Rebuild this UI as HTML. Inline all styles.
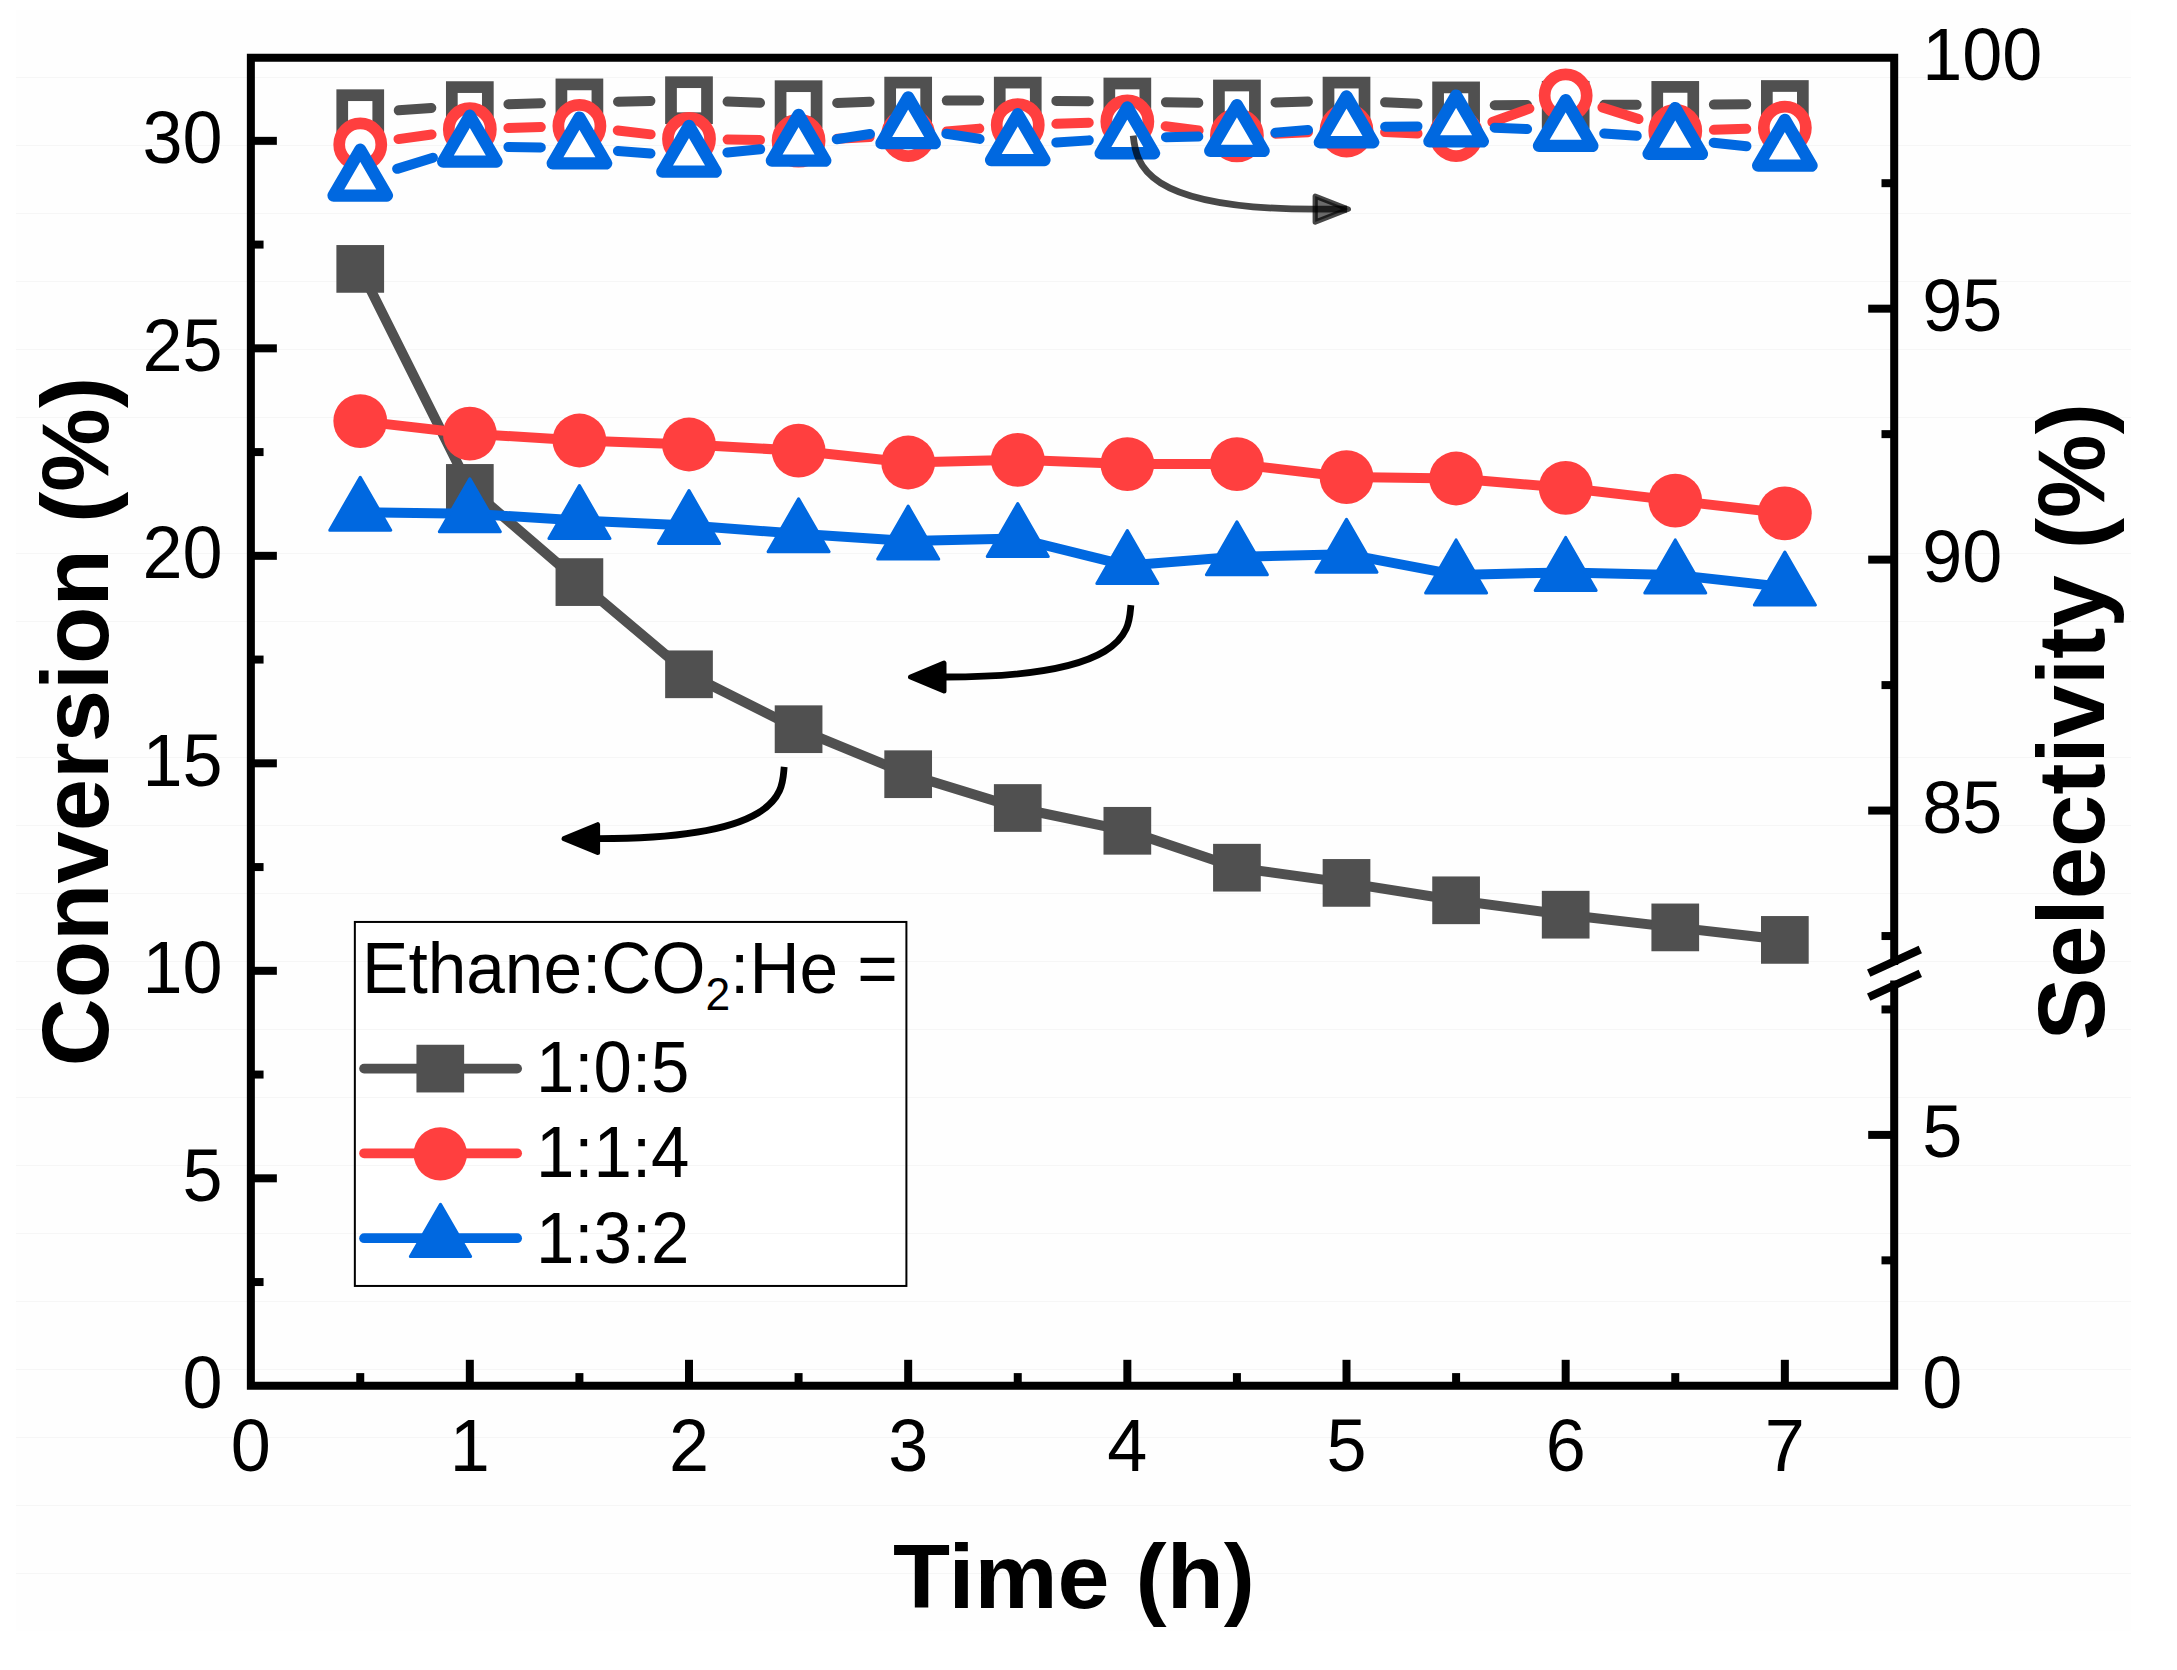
<!DOCTYPE html>
<html lang="en"><head><meta charset="utf-8"><title>Conversion and selectivity vs time</title>
<style>html,body{margin:0;padding:0;background:#fff;overflow:hidden;width:2177px;height:1670px;}svg{display:block;}text{font-family:'Liberation Sans', sans-serif;fill:#000;}</style></head><body>
<svg width="2177" height="1670" viewBox="0 0 2177 1670" role="img" aria-label="Conversion and selectivity versus time">
<rect x="0" y="0" width="2177" height="1670" fill="#ffffff"/>
<rect x="16" y="10" width="2115" height="1621" fill="#fefefe"/>
<g stroke="#f6f6f6" stroke-width="1" shape-rendering="crispEdges">
<line x1="16" y1="77.5" x2="2131" y2="77.5"/>
<line x1="16" y1="145.5" x2="2131" y2="145.5"/>
<line x1="16" y1="213.5" x2="2131" y2="213.5"/>
<line x1="16" y1="281.5" x2="2131" y2="281.5"/>
<line x1="16" y1="349.5" x2="2131" y2="349.5"/>
<line x1="16" y1="417.5" x2="2131" y2="417.5"/>
<line x1="16" y1="553.5" x2="2131" y2="553.5"/>
<line x1="16" y1="621.5" x2="2131" y2="621.5"/>
<line x1="16" y1="757.5" x2="2131" y2="757.5"/>
<line x1="16" y1="825.5" x2="2131" y2="825.5"/>
<line x1="16" y1="893.5" x2="2131" y2="893.5"/>
<line x1="16" y1="961.5" x2="2131" y2="961.5"/>
<line x1="16" y1="1029.5" x2="2131" y2="1029.5"/>
<line x1="16" y1="1097.5" x2="2131" y2="1097.5"/>
<line x1="16" y1="1165.5" x2="2131" y2="1165.5"/>
<line x1="16" y1="1233.5" x2="2131" y2="1233.5"/>
<line x1="16" y1="1301.5" x2="2131" y2="1301.5"/>
<line x1="16" y1="1369.5" x2="2131" y2="1369.5"/>
<line x1="16" y1="1437.5" x2="2131" y2="1437.5"/>
<line x1="16" y1="1505.5" x2="2131" y2="1505.5"/>
<line x1="16" y1="1573.5" x2="2131" y2="1573.5"/>
</g>
<polyline fill="none" stroke="#505050" stroke-width="10" stroke-linejoin="round" stroke-linecap="round" points="360.25,268.9 469.83,487.9 579.41,582.1 689,674.3 798.58,729.2 908.17,774.2 1017.75,808 1127.34,830.8 1236.92,867.7 1346.51,882.9 1456.1,900.3 1565.68,914.7 1675.27,927.4 1784.85,939.9"/>
<g fill="#505050">
<rect x="336.39" y="245.05" width="47.7" height="47.7"/>
<rect x="445.98" y="464.05" width="47.7" height="47.7"/>
<rect x="555.56" y="558.25" width="47.7" height="47.7"/>
<rect x="665.15" y="650.45" width="47.7" height="47.7"/>
<rect x="774.73" y="705.35" width="47.7" height="47.7"/>
<rect x="884.32" y="750.35" width="47.7" height="47.7"/>
<rect x="993.9" y="784.15" width="47.7" height="47.7"/>
<rect x="1103.49" y="806.95" width="47.7" height="47.7"/>
<rect x="1213.08" y="843.85" width="47.7" height="47.7"/>
<rect x="1322.66" y="859.05" width="47.7" height="47.7"/>
<rect x="1432.25" y="876.45" width="47.7" height="47.7"/>
<rect x="1541.83" y="890.85" width="47.7" height="47.7"/>
<rect x="1651.42" y="903.55" width="47.7" height="47.7"/>
<rect x="1761" y="916.05" width="47.7" height="47.7"/>
</g>
<polyline fill="none" stroke="#ff3f3f" stroke-width="10" stroke-linejoin="round" stroke-linecap="round" points="360.25,421.1 469.83,433.7 579.41,440.5 689,444.5 798.58,450.7 908.17,462.5 1017.75,459.8 1127.34,464.1 1236.92,464.1 1346.51,477.1 1456.1,478.5 1565.68,487.8 1675.27,500.6 1784.85,513.3"/>
<g fill="#ff3f3f">
<circle cx="360.25" cy="421.1" r="26.9"/>
<circle cx="469.83" cy="433.7" r="26.9"/>
<circle cx="579.41" cy="440.5" r="26.9"/>
<circle cx="689" cy="444.5" r="26.9"/>
<circle cx="798.58" cy="450.7" r="26.9"/>
<circle cx="908.17" cy="462.5" r="26.9"/>
<circle cx="1017.75" cy="459.8" r="26.9"/>
<circle cx="1127.34" cy="464.1" r="26.9"/>
<circle cx="1236.92" cy="464.1" r="26.9"/>
<circle cx="1346.51" cy="477.1" r="26.9"/>
<circle cx="1456.1" cy="478.5" r="26.9"/>
<circle cx="1565.68" cy="487.8" r="26.9"/>
<circle cx="1675.27" cy="500.6" r="26.9"/>
<circle cx="1784.85" cy="513.3" r="26.9"/>
</g>
<polyline fill="none" stroke="#0068e0" stroke-width="10" stroke-linejoin="round" stroke-linecap="round" points="360.25,512.2 469.83,513.7 579.41,520.5 689,525.6 798.58,533.7 908.17,541.1 1017.75,538.5 1127.34,565.6 1236.92,556.7 1346.51,554.2 1456.1,574.9 1565.68,572.4 1675.27,574.9 1784.85,587"/>
<g fill="#0068e0" stroke="#0068e0" stroke-width="3" stroke-linejoin="round">
<polygon points="360.25,477.2 390.75,530.2 329.75,530.2"/>
<polygon points="469.83,478.7 500.33,531.7 439.33,531.7"/>
<polygon points="579.41,485.5 609.91,538.5 548.91,538.5"/>
<polygon points="689,490.6 719.5,543.6 658.5,543.6"/>
<polygon points="798.58,498.7 829.08,551.7 768.08,551.7"/>
<polygon points="908.17,506.1 938.67,559.1 877.67,559.1"/>
<polygon points="1017.75,503.5 1048.25,556.5 987.25,556.5"/>
<polygon points="1127.34,530.6 1157.84,583.6 1096.84,583.6"/>
<polygon points="1236.92,521.7 1267.42,574.7 1206.42,574.7"/>
<polygon points="1346.51,519.2 1377.01,572.2 1316.01,572.2"/>
<polygon points="1456.1,539.9 1486.6,592.9 1425.6,592.9"/>
<polygon points="1565.68,537.4 1596.18,590.4 1535.18,590.4"/>
<polygon points="1675.27,539.9 1705.77,592.9 1644.77,592.9"/>
<polygon points="1784.85,552 1815.35,605 1754.35,605"/>
</g>
<g stroke="#505050" stroke-width="10" stroke-linecap="round" fill="none">
<line x1="398.74" y1="110.35" x2="431.34" y2="107.95"/>
<line x1="508.42" y1="104.15" x2="540.83" y2="103.35"/>
<line x1="618.01" y1="101.63" x2="650.41" y2="100.97"/>
<line x1="727.57" y1="101.61" x2="760.01" y2="102.79"/>
<line x1="837.16" y1="102.93" x2="869.59" y2="101.87"/>
<line x1="946.77" y1="100.6" x2="979.15" y2="100.6"/>
<line x1="1056.35" y1="100.92" x2="1088.74" y2="101.18"/>
<line x1="1165.93" y1="102.2" x2="1198.33" y2="102.8"/>
<line x1="1275.51" y1="102.48" x2="1307.92" y2="101.62"/>
<line x1="1385.07" y1="102.29" x2="1417.53" y2="103.71"/>
<line x1="1494.69" y1="105.19" x2="1527.08" y2="105.01"/>
<line x1="1604.28" y1="104.84" x2="1636.67" y2="104.86"/>
<line x1="1713.86" y1="104.58" x2="1746.25" y2="104.32"/>
</g>
<g fill="#fff" stroke="#505050" stroke-width="11.7">
<rect x="342.25" y="95.2" width="36" height="36"/>
<rect x="451.83" y="87.1" width="36" height="36"/>
<rect x="561.41" y="84.4" width="36" height="36"/>
<rect x="671" y="82.2" width="36" height="36"/>
<rect x="780.58" y="86.2" width="36" height="36"/>
<rect x="890.17" y="82.6" width="36" height="36"/>
<rect x="999.75" y="82.6" width="36" height="36"/>
<rect x="1109.34" y="83.5" width="36" height="36"/>
<rect x="1218.92" y="85.5" width="36" height="36"/>
<rect x="1328.51" y="82.6" width="36" height="36"/>
<rect x="1438.1" y="87.4" width="36" height="36"/>
<rect x="1547.68" y="86.8" width="36" height="36"/>
<rect x="1657.27" y="86.9" width="36" height="36"/>
<rect x="1766.85" y="86" width="36" height="36"/>
</g>
<g stroke="#ff3f3f" stroke-width="10" stroke-linecap="round" fill="none">
<line x1="398.48" y1="139.1" x2="431.6" y2="134.5"/>
<line x1="508.41" y1="128.04" x2="540.83" y2="127.06"/>
<line x1="617.75" y1="130.45" x2="650.67" y2="134.35"/>
<line x1="727.59" y1="139.53" x2="759.99" y2="140.07"/>
<line x1="837.13" y1="138.73" x2="869.62" y2="137.07"/>
<line x1="946.61" y1="131.59" x2="979.31" y2="128.61"/>
<line x1="1056.33" y1="123.8" x2="1088.76" y2="122.7"/>
<line x1="1165.63" y1="126.29" x2="1198.64" y2="130.51"/>
<line x1="1275.49" y1="133.68" x2="1307.95" y2="132.22"/>
<line x1="1385.08" y1="132.12" x2="1417.53" y2="133.48"/>
<line x1="1492.4" y1="121.98" x2="1529.38" y2="108.62"/>
<line x1="1602.4" y1="107.4" x2="1638.54" y2="119.1"/>
<line x1="1713.85" y1="129.84" x2="1746.27" y2="128.86"/>
</g>
<g fill="#fff" stroke="#ff3f3f" stroke-width="11.7">
<circle cx="360.25" cy="144.4" r="21.05"/>
<circle cx="469.83" cy="129.2" r="21.05"/>
<circle cx="579.41" cy="125.9" r="21.05"/>
<circle cx="689" cy="138.9" r="21.05"/>
<circle cx="798.58" cy="140.7" r="21.05"/>
<circle cx="908.17" cy="135.1" r="21.05"/>
<circle cx="1017.75" cy="125.1" r="21.05"/>
<circle cx="1127.34" cy="121.4" r="21.05"/>
<circle cx="1236.92" cy="135.4" r="21.05"/>
<circle cx="1346.51" cy="130.5" r="21.05"/>
<circle cx="1456.1" cy="135.1" r="21.05"/>
<circle cx="1565.68" cy="95.5" r="21.05"/>
<circle cx="1675.27" cy="131" r="21.05"/>
<circle cx="1784.85" cy="127.7" r="21.05"/>
</g>
<g stroke="#0068e0" stroke-width="10" stroke-linecap="round" fill="none">
<line x1="397.11" y1="168.85" x2="432.96" y2="157.72"/>
<line x1="508.42" y1="146.92" x2="540.82" y2="147.45"/>
<line x1="617.9" y1="151" x2="650.51" y2="153.47"/>
<line x1="727.41" y1="152.53" x2="760.18" y2="149.24"/>
<line x1="836.7" y1="139.3" x2="870.05" y2="133.97"/>
<line x1="946.32" y1="133.77" x2="979.61" y2="138.9"/>
<line x1="1056.28" y1="142.39" x2="1088.81" y2="140.37"/>
<line x1="1165.93" y1="137.17" x2="1198.33" y2="136.49"/>
<line x1="1275.4" y1="132.63" x2="1308.03" y2="130.04"/>
<line x1="1385.11" y1="126.67" x2="1417.5" y2="126.4"/>
<line x1="1494.66" y1="127.7" x2="1527.11" y2="129.06"/>
<line x1="1604.18" y1="133.46" x2="1636.76" y2="135.81"/>
<line x1="1713.64" y1="142.72" x2="1746.47" y2="146.25"/>
</g>
<g fill="#fff" stroke="#0068e0" stroke-width="12.3" stroke-linejoin="round">
<polygon points="360.25,149.75 386.94,195.55 333.55,195.55"/>
<polygon points="469.83,115.75 496.53,161.55 443.13,161.55"/>
<polygon points="579.41,117.55 606.12,163.35 552.71,163.35"/>
<polygon points="689,125.85 715.7,171.65 662.3,171.65"/>
<polygon points="798.58,114.85 825.28,160.65 771.88,160.65"/>
<polygon points="908.17,97.35 934.87,143.15 881.47,143.15"/>
<polygon points="1017.75,114.25 1044.45,160.05 991.05,160.05"/>
<polygon points="1127.34,107.45 1154.04,153.25 1100.64,153.25"/>
<polygon points="1236.92,105.15 1263.62,150.95 1210.22,150.95"/>
<polygon points="1346.51,96.45 1373.21,142.25 1319.81,142.25"/>
<polygon points="1456.1,95.55 1482.8,141.35 1429.39,141.35"/>
<polygon points="1565.68,100.15 1592.38,145.95 1538.98,145.95"/>
<polygon points="1675.27,108.05 1701.97,153.85 1648.57,153.85"/>
<polygon points="1784.85,119.85 1811.55,165.65 1758.15,165.65"/>
</g>
<path d="M1130.9,605.1 C1128.5,625 1136.5,677 945.5,677" fill="none" stroke="#000" stroke-width="6.8"/>
<polygon points="910.5,677 944,663.1 944,690.9" fill="#000" stroke="#000" stroke-width="5" stroke-linejoin="round"/>
<path d="M784.2,766.9 C781.8,786.8 790.1,838.6 599.1,838.6" fill="none" stroke="#000" stroke-width="6.8"/>
<polygon points="564.1,838.6 597.6,824.7 597.6,852.5" fill="#000" stroke="#000" stroke-width="5" stroke-linejoin="round"/>
<path d="M1133.2,135.7 C1136.2,163.5 1142.6,209.1 1314.6,209.1 L1347,209.1" fill="none" stroke="#000" stroke-opacity="0.72" stroke-width="6.8"/>
<polygon points="1348.4,209.1 1315.2,196.1 1315.2,222.1" fill="#000" fill-opacity="0.58" stroke="#000" stroke-opacity="0.72" stroke-width="5.2" stroke-linejoin="round"/>
<rect x="354.85" y="921.95" width="551.55" height="364" fill="#fff" stroke="#000" stroke-width="2"/>
<g stroke="#f6f6f6" stroke-width="1" shape-rendering="crispEdges">
<line x1="356" y1="961.5" x2="905" y2="961.5"/>
<line x1="356" y1="1029.5" x2="905" y2="1029.5"/>
<line x1="356" y1="1097.5" x2="905" y2="1097.5"/>
<line x1="356" y1="1165.5" x2="905" y2="1165.5"/>
<line x1="356" y1="1233.5" x2="905" y2="1233.5"/>
</g>
<text transform="translate(362.1,993.2) scale(1,1.03)" font-size="69.4">Ethane:CO<tspan font-size="44.42" dy="16.5">2</tspan><tspan dy="-16.5">:He =</tspan></text>
<line x1="364.1" y1="1068.6" x2="517.1" y2="1068.6" stroke="#505050" stroke-width="9.8" stroke-linecap="round"/>
<text transform="translate(536,1092.1) scale(1,1.04)" font-size="69">1:0:5</text>
<line x1="364.1" y1="1153.3" x2="517.1" y2="1153.3" stroke="#ff3f3f" stroke-width="9.8" stroke-linecap="round"/>
<text transform="translate(536,1177.4) scale(1,1.04)" font-size="69">1:1:4</text>
<line x1="364.1" y1="1238.2" x2="517.1" y2="1238.2" stroke="#0068e0" stroke-width="9.8" stroke-linecap="round"/>
<text transform="translate(536,1262.6) scale(1,1.04)" font-size="69">1:3:2</text>
<rect x="416.45" y="1044.75" width="47.7" height="47.7" fill="#505050"/>
<circle cx="440.3" cy="1153.9" r="26.7" fill="#ff3f3f"/>
<polygon points="440.5,1204.35 470.65,1256.45 410.35,1256.45" fill="#0068e0" stroke="#0068e0" stroke-width="3" stroke-linejoin="round"/>
<g stroke="#000" stroke-width="8" fill="none" stroke-linecap="butt">
<path d="M1894.2,965 L1894.2,57.72 L250.86,57.72 L250.86,1385.8 L1894.2,1385.8 L1894.2,980.6" stroke-linejoin="miter"/>
<line x1="1868.7" y1="973.1" x2="1920.3" y2="949.5"/>
<line x1="1868.7" y1="997.1" x2="1920.3" y2="973.4"/>
<line x1="250.86" y1="1178.31" x2="276.86" y2="1178.31"/>
<line x1="250.86" y1="970.81" x2="276.86" y2="970.81"/>
<line x1="250.86" y1="763.32" x2="276.86" y2="763.32"/>
<line x1="250.86" y1="555.83" x2="276.86" y2="555.83"/>
<line x1="250.86" y1="348.33" x2="276.86" y2="348.33"/>
<line x1="250.86" y1="140.84" x2="276.86" y2="140.84"/>
<line x1="250.86" y1="1282.05" x2="263.56" y2="1282.05"/>
<line x1="250.86" y1="1074.56" x2="263.56" y2="1074.56"/>
<line x1="250.86" y1="867.07" x2="263.56" y2="867.07"/>
<line x1="250.86" y1="659.57" x2="263.56" y2="659.57"/>
<line x1="250.86" y1="452.08" x2="263.56" y2="452.08"/>
<line x1="250.86" y1="244.59" x2="263.56" y2="244.59"/>
<line x1="469.83" y1="1385.8" x2="469.83" y2="1359.8"/>
<line x1="689" y1="1385.8" x2="689" y2="1359.8"/>
<line x1="908.17" y1="1385.8" x2="908.17" y2="1359.8"/>
<line x1="1127.34" y1="1385.8" x2="1127.34" y2="1359.8"/>
<line x1="1346.51" y1="1385.8" x2="1346.51" y2="1359.8"/>
<line x1="1565.68" y1="1385.8" x2="1565.68" y2="1359.8"/>
<line x1="1784.85" y1="1385.8" x2="1784.85" y2="1359.8"/>
<line x1="360.25" y1="1385.8" x2="360.25" y2="1373.1"/>
<line x1="579.41" y1="1385.8" x2="579.41" y2="1373.1"/>
<line x1="798.58" y1="1385.8" x2="798.58" y2="1373.1"/>
<line x1="1017.75" y1="1385.8" x2="1017.75" y2="1373.1"/>
<line x1="1236.92" y1="1385.8" x2="1236.92" y2="1373.1"/>
<line x1="1456.1" y1="1385.8" x2="1456.1" y2="1373.1"/>
<line x1="1675.27" y1="1385.8" x2="1675.27" y2="1373.1"/>
<line x1="1894.2" y1="308.67" x2="1868.2" y2="308.67"/>
<line x1="1894.2" y1="559.62" x2="1868.2" y2="559.62"/>
<line x1="1894.2" y1="810.57" x2="1868.2" y2="810.57"/>
<line x1="1894.2" y1="183.19" x2="1881.5" y2="183.19"/>
<line x1="1894.2" y1="434.14" x2="1881.5" y2="434.14"/>
<line x1="1894.2" y1="685.1" x2="1881.5" y2="685.1"/>
<line x1="1894.2" y1="936.04" x2="1881.5" y2="936.04"/>
<line x1="1894.2" y1="1134.9" x2="1868.2" y2="1134.9"/>
<line x1="1894.2" y1="1260.35" x2="1881.5" y2="1260.35"/>
<line x1="1894.2" y1="1009.45" x2="1881.5" y2="1009.45"/>
</g>
<g font-size="72">
<text transform="translate(222.5,1408) scale(1,1.04)" text-anchor="end">0</text>
<text transform="translate(222.5,1200.51) scale(1,1.04)" text-anchor="end">5</text>
<text transform="translate(222.5,993.01) scale(1,1.04)" text-anchor="end">10</text>
<text transform="translate(222.5,785.52) scale(1,1.04)" text-anchor="end">15</text>
<text transform="translate(222.5,578.03) scale(1,1.04)" text-anchor="end">20</text>
<text transform="translate(222.5,370.53) scale(1,1.04)" text-anchor="end">25</text>
<text transform="translate(222.5,163.04) scale(1,1.04)" text-anchor="end">30</text>
<text transform="translate(250.66,1470.9) scale(1,1.04)" text-anchor="middle">0</text>
<text transform="translate(469.83,1470.9) scale(1,1.04)" text-anchor="middle">1</text>
<text transform="translate(689,1470.9) scale(1,1.04)" text-anchor="middle">2</text>
<text transform="translate(908.17,1470.9) scale(1,1.04)" text-anchor="middle">3</text>
<text transform="translate(1127.34,1470.9) scale(1,1.04)" text-anchor="middle">4</text>
<text transform="translate(1346.51,1470.9) scale(1,1.04)" text-anchor="middle">5</text>
<text transform="translate(1565.68,1470.9) scale(1,1.04)" text-anchor="middle">6</text>
<text transform="translate(1784.85,1470.9) scale(1,1.04)" text-anchor="middle">7</text>
<text transform="translate(1922.3,80.12) scale(1,1.04)">100</text>
<text transform="translate(1922.3,331.07) scale(1,1.04)">95</text>
<text transform="translate(1922.3,582.02) scale(1,1.04)">90</text>
<text transform="translate(1922.3,832.97) scale(1,1.04)">85</text>
<text transform="translate(1922.3,1157.3) scale(1,1.04)">5</text>
<text transform="translate(1922.3,1408.2) scale(1,1.04)">0</text>
</g>
<g font-size="94" font-weight="bold">
<text transform="translate(107.8,721.5) rotate(-90)" text-anchor="middle">Conversion (%)</text>
<text transform="translate(2103.6,721.7) rotate(-90)" text-anchor="middle">Selectivity (%)</text>
<text transform="translate(1074,1608) scale(1,0.9626)" font-size="93.5" text-anchor="middle">Time (h)</text>
</g>
</svg></body></html>
